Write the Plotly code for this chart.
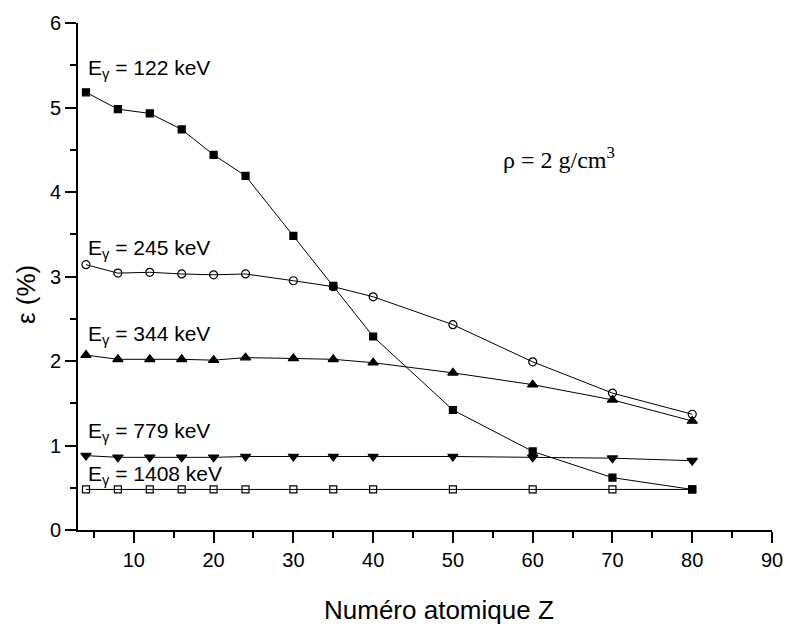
import plotly.graph_objects as go

Z = [4, 8, 12, 16, 20, 24, 30, 35, 40, 50, 60, 70, 80]

eff_122 = [5.18, 4.98, 4.93, 4.74, 4.44, 4.19, 3.48, 2.89, 2.29, 1.42, 0.93, 0.62, 0.48]
eff_245 = [3.14, 3.04, 3.05, 3.03, 3.02, 3.03, 2.95, 2.88, 2.76, 2.43, 1.99, 1.62, 1.37]
eff_344 = [2.07, 2.02, 2.02, 2.02, 2.01, 2.04, 2.03, 2.02, 1.98, 1.86, 1.72, 1.54, 1.29]
eff_779 = [0.88, 0.86, 0.86, 0.86, 0.86, 0.87, 0.87, 0.87, 0.87, 0.87, 0.86, 0.85, 0.82]
eff_1408 = [0.48, 0.48, 0.48, 0.48, 0.48, 0.48, 0.48, 0.48, 0.48, 0.48, 0.48, 0.48, 0.48]

energies = ["122", "245", "344", "779", "1408"]
series = [eff_122, eff_245, eff_344, eff_779, eff_1408]
symbols = ["square", "circle-open", "triangle-up", "triangle-down", "square-open"]
sizes = [7, 8, 9, 9, 7]
label_y = [5.45, 3.33, 2.31, 1.155, 0.647]

FONT = "Liberation Sans, Arial, sans-serif"

fig = go.Figure()
for e, ys, sym, sz in zip(energies, series, symbols, sizes):
    fig.add_trace(go.Scatter(
        x=Z, y=ys, mode="lines+markers", name=e + " keV",
        line=dict(color="black", width=1),
        marker=dict(symbol=sym, size=sz, color="black",
                    line=dict(color="black", width=1.2)),
        showlegend=False,
    ))

for e, ly in zip(energies, label_y):
    fig.add_annotation(x=4, y=ly, xref="x", yref="y", xanchor="left", yanchor="middle",
                       text="E<sub>γ</sub> = " + e + " keV", showarrow=False,
                       font=dict(family=FONT, size=21, color="black"))

fig.add_annotation(x=56.0, y=4.40, xref="x", yref="y", xanchor="left", yanchor="middle",
                   text="ρ = 2 g/cm<sup>3</sup>", showarrow=False,
                   font=dict(family="Liberation Serif, Times New Roman, serif", size=24, color="black"))

fig.add_annotation(x=0.52, y=0, xref="paper", yref="paper", xanchor="center", yanchor="top",
                   yshift=-63, text="Numéro atomique Z", showarrow=False,
                   font=dict(family=FONT, size=26, color="black"))
fig.add_annotation(x=0, y=2.78, xref="paper", yref="y", xanchor="center", yanchor="middle",
                   xshift=-52, text="ε (%)", textangle=-90, showarrow=False,
                   font=dict(family=FONT, size=26, color="black"))

fig.update_xaxes(range=[3, 90], tick0=0, dtick=10, ticks="outside", ticklen=11, tickwidth=2,
                 tickcolor="black", showline=True, linecolor="black", linewidth=2,
                 showgrid=False, zeroline=False,
                 minor=dict(dtick=5, tick0=0, ticks="outside", ticklen=6, tickwidth=2, tickcolor="black"),
                 tickfont=dict(family=FONT, size=20, color="black"))
fig.update_yaxes(range=[0, 6], tick0=0, dtick=1, ticks="outside", ticklen=11, tickwidth=2,
                 tickcolor="black", showline=True, linecolor="black", linewidth=2,
                 showgrid=False, zeroline=False,
                 minor=dict(dtick=0.5, tick0=0, ticks="outside", ticklen=6, tickwidth=2, tickcolor="black"),
                 tickfont=dict(family=FONT, size=20, color="black"))

fig.update_layout(width=795, height=626, margin=dict(l=78, r=13, t=20, b=96),
                  plot_bgcolor="white", paper_bgcolor="white",
                  font=dict(family=FONT, color="black"))

fig.write_html("out.html")
